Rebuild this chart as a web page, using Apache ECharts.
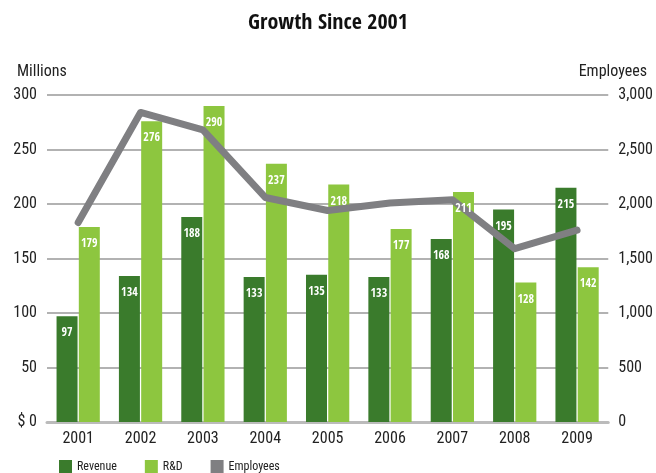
<!DOCTYPE html>
<html><head><meta charset="utf-8">
<script src="https://cdn.jsdelivr.net/npm/echarts@6/dist/echarts.min.js"></script>
<style>html,body{margin:0;padding:0;background:#fff}#c{width:656px;height:473px}</style>
</head><body><div id="c"></div>
<script>
const years = ['2001','2002','2003','2004','2005','2006','2007','2008','2009'];
const revenue = [97,134,188,133,135,133,168,195,215];
const rnd = [179,276,290,237,218,177,211,128,142];
const employees = [1830,2840,2680,2060,1940,2010,2040,1590,1760];
const leftTicks = {min:0,max:300,interval:50};
const rightTicks = {min:0,max:3000,interval:500};

const FONT = '"Roboto Condensed", "DejaVu Sans Condensed", sans-serif';
const BOLD = '"Open Sans Condensed", "Roboto Condensed", sans-serif';
const chart = echarts.init(document.getElementById('c'));
const barLabel = {show:true, position:'insideTop', distance:11, color:'#fff', fontFamily:BOLD, fontWeight:'bold', fontSize:12};
const clear = {color:'rgba(0,0,0,0)'};
chart.setOption({
  animation:false,
  textStyle:{fontFamily:FONT},
  title:[
    {text:'Growth Since 2001', left:'center', top:7, textStyle:{fontFamily:BOLD, fontWeight:'bold', fontSize:22, color:'#111'}},
    {text:'Millions', left:12, top:59, textStyle:{fontFamily:FONT, fontWeight:'normal', fontSize:16, color:'#222'}},
    {text:'Employees', right:4, top:59, textStyle:{fontFamily:FONT, fontWeight:'normal', fontSize:16, color:'#222'}}
  ],
  legend:{
    left:59, top:458, itemWidth:13, itemHeight:13, itemGap:28, icon:'rect', padding:[2,5,2,0],
    textStyle:{fontFamily:FONT, fontSize:12, color:'#222'},
    data:['Revenue','R&D','Employees']
  },
  grid:{left:47, right:43, top:95, bottom:51},
  xAxis:[{
    type:'category', data:years,
    axisLine:{lineStyle:{color:'#bbb', width:3}},
    axisTick:{show:false},
    axisLabel:{fontFamily:FONT, fontSize:16, color:'#222', margin:9}
  },{type:'category', data:years, show:false}],
  yAxis:[
    {type:'value', min:leftTicks.min, max:leftTicks.max, interval:leftTicks.interval,
     axisLine:{show:false}, axisTick:{show:false},
     axisLabel:{fontFamily:FONT, fontSize:16, color:'#222', margin:10, formatter:v=>v===0?'$ 0':String(v)},
     splitLine:{lineStyle:{color:'#999', width:1.5}}},
    {type:'value', min:rightTicks.min, max:rightTicks.max, interval:rightTicks.interval,
     axisLine:{show:false}, axisTick:{show:false},
     axisLabel:{fontFamily:FONT, fontSize:16, color:'#222', margin:10, formatter:v=>v.toLocaleString('en-US')},
     splitLine:{show:false}}
  ],
  series:[
    {name:'Revenue', type:'bar', data:revenue, barWidth:21, barGap:'6%', itemStyle:{color:'#3a7b2c'}},
    {name:'R&D', type:'bar', data:rnd, barWidth:21, itemStyle:{color:'#8dc63f'}},
    {name:'Employees', type:'line', yAxisIndex:1, data:employees, symbol:'none', z:3,
     lineStyle:{color:'#7f7f82', width:7, cap:'round', join:'round'}, itemStyle:{color:'#7f7f82'}},
    {name:'Revenue labels', type:'bar', xAxisIndex:1, data:revenue, barWidth:21, barGap:'6%', itemStyle:clear, label:barLabel, z:5, silent:true},
    {name:'R&D labels', type:'bar', xAxisIndex:1, data:rnd, barWidth:21, itemStyle:clear, label:barLabel, z:5, silent:true}
  ]
});
</script></body></html>
